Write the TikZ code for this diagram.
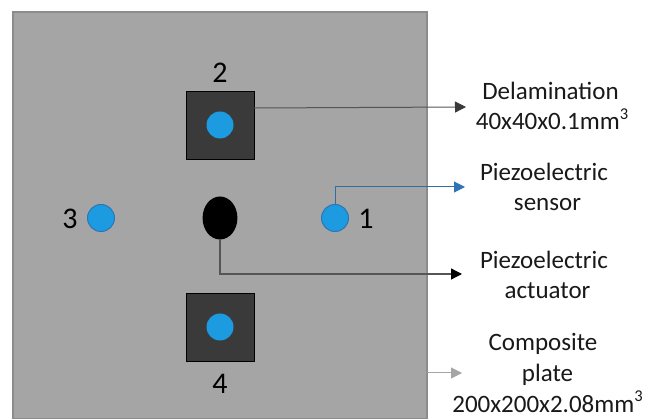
\documentclass[tikz,border=0pt]{standalone}
\usepackage{fontspec}
\setmainfont{Carlito}
\usetikzlibrary{arrows.meta}
\definecolor{plategray}{HTML}{A5A5A5}
\definecolor{plateedge}{HTML}{8C8C8C}
\definecolor{darksq}{HTML}{3A3A3A}
\definecolor{sensorblue}{HTML}{1C9BE0}
\definecolor{sensoredge}{HTML}{2E75B6}
\definecolor{leadblue}{HTML}{2F6F9F}
\definecolor{leadgray}{HTML}{555555}
\newcommand{\cubed}{\raisebox{0.42em}{\fontsize{16.5}{16.5}\selectfont 3}}
\tikzset{
  plate/.style={fill=plategray,draw=plateedge,line width=1.2pt},
  delam/.style={fill=darksq,draw=black,line width=0.9pt,minimum size=68pt,inner sep=0pt,outer sep=0pt},
  sensorin/.style={circle,fill=sensorblue,draw=none,minimum size=27pt,inner sep=0pt,outer sep=0pt},
  sensorout/.style={circle,fill=sensorblue,draw=sensoredge,line width=1pt,minimum size=27pt,inner sep=0pt,outer sep=0pt},
  lab/.style={font=\fontsize{30}{30}\selectfont,text=black,inner sep=0pt},
  txt/.style={font=\fontsize{25}{30.7}\selectfont,text=black!90,align=center,inner sep=0pt},
}
\begin{document}
\begin{tikzpicture}[x=1pt,y=-1pt]
\useasboundingbox (0,0) rectangle (646,419);
\fill[white] (0,0) rectangle (646,419);
\draw[plate] (13,12) -- (427,12) -- (427,419) -- (13,419) -- cycle;
\node[delam] (sqA) at (220,125) {};
\node[delam] (sqB) at (220,327) {};
\node[sensorin] (s2) at (220,125) {};
\node[sensorin] (s4) at (220,327) {};
\node[sensorout] (s1) at (335,218) {};
\node[sensorout] (s3) at (101,218) {};
\node[draw=none,fill=black,minimum width=43pt,minimum height=43pt,shape=circle,inner sep=0pt,outer sep=0pt,xscale=0.81] (act) at (220,218) {};
\node[lab] (n1) at (366,219) {1};
\node[lab] (n2) at (220,73) {2};
\node[lab] (n3) at (70,219) {3};
\node[lab] (n4) at (220,384) {4};
\coordinate (tipA) at (466,107);
\coordinate (tipB) at (465,187);
\coordinate (tipC) at (462,274);
\coordinate (tipD) at (462,373);
\coordinate (edgeD) at (427,373);
\draw[line width=1pt,draw=leadgray,-{Triangle[length=11pt,width=11pt,color=darksq]}] (sqA.east |- 0,108) -- (tipA);
\draw[line width=1pt,draw=leadblue,-{Triangle[length=11pt,width=11pt,color=sensoredge]}] (s1.north) |- (tipB);
\draw[line width=1.3pt,draw=leadgray,-{Triangle[length=11pt,width=11pt,color=black]}] (act.south) |- (tipC);
\draw[line width=1pt,draw=plategray,-{Triangle[length=11pt,width=11pt,color=plategray]}] (edgeD) -- (tipD);
\node[txt] (tA) at (552,106) {Delamination\hspace*{3pt}\\40x40x0.1mm\cubed};
\node[txt] (tB) at (544,187) {Piezoelectric\\\hspace*{7pt}sensor};
\node[txt] (tC) at (544,275) {Piezoelectric\\\hspace*{7pt}actuator};
\node[txt] (tD) at (547.5,373) {Composite\hspace*{9pt}\\plate\\200x200x2.08mm\cubed};
\end{tikzpicture}
\end{document}
